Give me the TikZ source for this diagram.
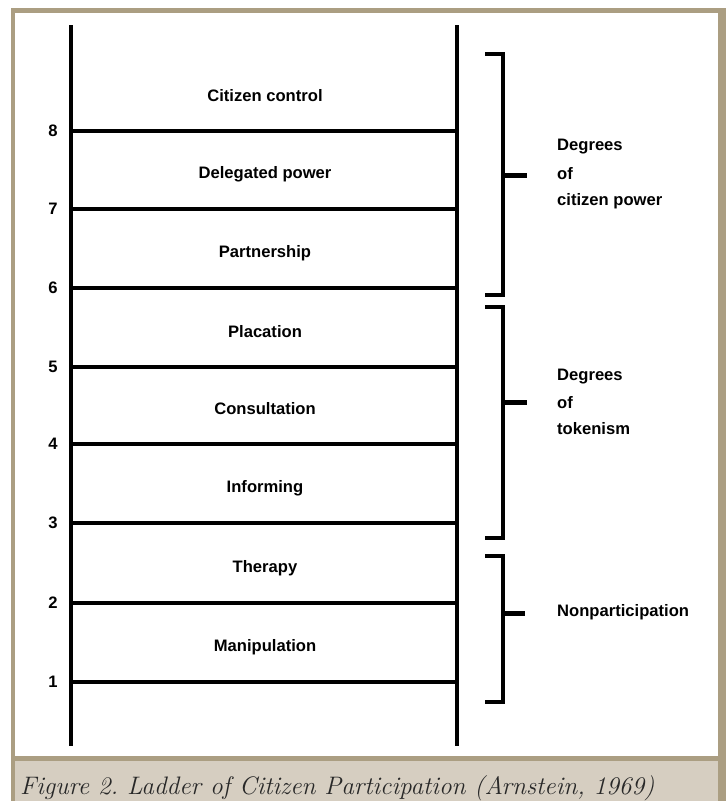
\documentclass[tikz,border=0pt]{standalone}
\usepackage{fontspec}
\newfontfamily\labfont{Liberation Sans}
\definecolor{framec}{RGB}{171,158,130}
\definecolor{capbg}{RGB}{214,206,193}
\definecolor{captext}{RGB}{40,40,40}
\tikzset{
  rail/.style={line width=4.5pt},
  rungline/.style={line width=4.5pt},
  brk/.style={line width=4pt},
  brktick/.style={line width=5pt},
  lab/.style={font=\labfont\bfseries\fontsize{16.6}{19}\selectfont, inner sep=0pt},
  numlab/.style={font=\labfont\bfseries\fontsize{16.6}{19}\selectfont, inner sep=0pt},
  grp/.style={font=\labfont\bfseries\fontsize{16.6}{19}\selectfont, inner sep=0pt, anchor=west},
}
\begin{document}
\frenchspacing
\begin{tikzpicture}[x=1pt,y=-1pt]
\useasboundingbox (0,0) rectangle (726,801);
\fill[white] (0,0) rectangle (726,801);
\fill[framec] (11,8) rectangle (726,801);
\fill[white] (15,13) rectangle (718,756);
\fill[capbg] (15,761) rectangle (718,801);
\node[anchor=base west, inner sep=0pt, text=captext,
      font=\itshape\fontsize{25.3}{28}\selectfont] (cap) at (20,794)
  {Figure 2. Ladder of Citizen Participation (Arnstein, 1969)};

% rails
\coordinate (LT) at (71,25);
\coordinate (LB) at (71,746);
\coordinate (RT) at (457,25);
\coordinate (RB) at (457,746);
\draw[rail] (LT) -- (LB);
\draw[rail] (RT) -- (RB);

% rungs, numbers, labels
\foreach \n/\y/\t in {1/682/Manipulation,2/603/Therapy,3/523/Informing,4/444/Consultation,
                      5/367/Placation,6/288/Partnership,7/209/Delegated power,8/131/Citizen control}{
  \coordinate (L\n) at (71,\y);
  \coordinate (R\n) at (457,\y);
  \draw[rungline] (L\n) -- (R\n);
  \node[numlab] (num\n) at (53,\y) {\n};
  \node[lab] (lab\n) at (265,\y-35) {\t};
}

% bracket: citizen power
\coordinate (a1) at (485,54);  \coordinate (a2) at (503,54);
\coordinate (a3) at (503,295); \coordinate (a4) at (485,295);
\coordinate (am) at (503,175); \coordinate (ae) at (527,175);
\draw[brk] (a1) -- (a2) -- (a3) -- (a4);
\draw[brktick] (am) -- (ae);
\node[grp] (g1a) at (557,147) {Degrees};
\node[grp] (g1b) at (557,174) {of};
\node[grp] (g1c) at (557,201) {citizen power};

% bracket: tokenism
\coordinate (b1) at (485,307); \coordinate (b2) at (503,307);
\coordinate (b3) at (503,538); \coordinate (b4) at (485,538);
\coordinate (bm) at (503,402); \coordinate (be) at (527,402);
\draw[brk] (b1) -- (b2) -- (b3) -- (b4);
\draw[brktick] (bm) -- (be);
\node[grp] (g2a) at (557,377) {Degrees};
\node[grp] (g2b) at (557,403) {of};
\node[grp] (g2c) at (557,429) {tokenism};

% bracket: nonparticipation
\coordinate (c1) at (485,556); \coordinate (c2) at (503,556);
\coordinate (c3) at (503,702); \coordinate (c4) at (485,702);
\coordinate (cm) at (503,613); \coordinate (ce) at (525,613);
\draw[brk] (c1) -- (c2) -- (c3) -- (c4);
\draw[brktick] (cm) -- (ce);
\node[grp] (g3) at (557,612) {Nonparticipation};
\end{tikzpicture}
\end{document}
